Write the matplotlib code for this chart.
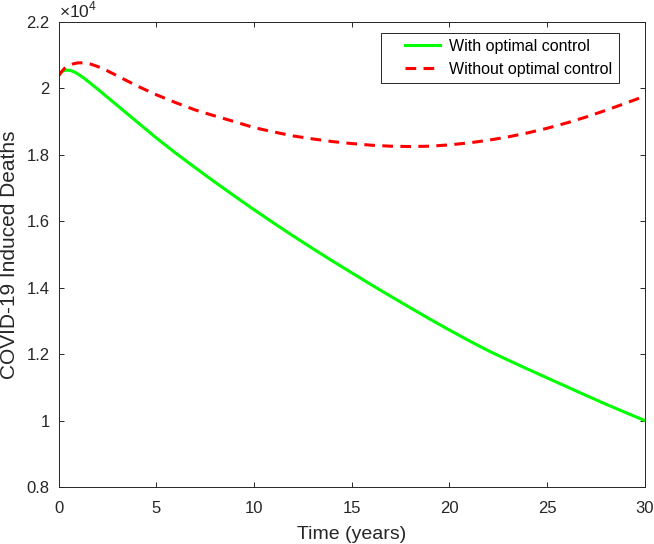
import matplotlib
matplotlib.use("Agg")
import matplotlib.pyplot as plt
from matplotlib.ticker import FuncFormatter
from matplotlib.legend_handler import HandlerLine2D

plt.rcParams['font.family'] = ['Liberation Sans', 'DejaVu Sans']
plt.rcParams['mathtext.fontset'] = 'custom'
plt.rcParams['mathtext.rm'] = 'Liberation Sans'

# time in years
t_with = [0, 0.1, 0.2, 0.3, 0.45, 0.6, 0.8, 1.0, 1.3, 1.6, 2, 3, 4, 5, 6, 7,
          8, 9, 10, 11, 12, 13, 14, 15, 16, 17, 18, 19, 20, 21, 22, 23, 24,
          25, 26, 27, 28, 29, 30]
deaths_with = [20380, 20460, 20510, 20540, 20550, 20540, 20500, 20430, 20310,
               20170, 19980, 19490, 19000, 18510, 18050, 17610, 17180, 16760,
               16350, 15950, 15560, 15180, 14810, 14450, 14090, 13740, 13395,
               13055, 12725, 12405, 12100, 11820, 11550, 11285, 11020, 10755,
               10495, 10245, 10000]

t_without = [0, 0.15, 0.3, 0.5, 0.75, 1.0, 1.3, 1.6, 2, 2.5, 3, 4, 5, 6, 7, 8,
             9, 10, 11, 12, 13, 14, 15, 16, 17, 18, 19, 20, 21, 22, 23, 24,
             25, 26, 27, 28, 29, 30]
deaths_without = [20380, 20500, 20600, 20680, 20740, 20770, 20770, 20740,
                  20660, 20530, 20380, 20080, 19810, 19570, 19350, 19170,
                  19000, 18820, 18690, 18570, 18480, 18400, 18340, 18290,
                  18260, 18250, 18260, 18300, 18360, 18440, 18540, 18660,
                  18800, 18960, 19140, 19340, 19550, 19770]

x_ticks = [0, 5, 10, 15, 20, 25, 30]
y_ticks = [8000, 10000, 12000, 14000, 16000, 18000, 20000, 22000]


class ShiftedLine(HandlerLine2D):
    # leave some empty room before the line sample, like MATLAB legends
    def create_artists(self, legend, orig_handle, xdescent, ydescent,
                       width, height, fontsize, trans):
        shift = width * 0.34
        return super().create_artists(legend, orig_handle, xdescent - shift,
                                      ydescent, width - shift, height,
                                      fontsize, trans)


fig = plt.figure(figsize=(6.54, 5.44), dpi=100)
ax = fig.add_axes([0.0895, 0.1048, 0.8965, 0.8548])

ax.plot(t_with, deaths_with, color=(0, 1, 0), linewidth=2.2,
        label='With optimal control')
ax.plot(t_without, deaths_without, color=(1, 0, 0), linewidth=2.2,
        linestyle=(0, (3.5, 2.4)), label='Without optimal control')

ax.set_xlim(0, 30)
ax.set_ylim(8000, 22000)
ax.set_xticks(x_ticks)
ax.set_yticks(y_ticks)
ax.yaxis.set_major_formatter(FuncFormatter(lambda v, p: '%g' % (v / 1e4)))

dark = '#262626'
for s in ax.spines.values():
    s.set_color(dark)
    s.set_linewidth(0.7)
ax.tick_params(direction='in', top=True, right=True, length=3.6, width=0.7,
               color=dark, labelcolor=dark, labelsize=12)
ax.tick_params(axis='x', pad=10)
ax.tick_params(axis='y', pad=6.4)

ax.text(0, 1.004, '×10$^{4}$', transform=ax.transAxes,
        ha='left', va='bottom', fontsize=12.5, color=dark)

ax.set_xlabel('Time (years)', fontsize=14, color=dark, labelpad=7)
ax.set_ylabel('COVID-19 Induced Deaths', fontsize=15, color=dark, labelpad=5)

leg = ax.legend(loc='upper right', bbox_to_anchor=(0.9557, 0.977),
                borderaxespad=0, fontsize=11.5, frameon=True, fancybox=False,
                handlelength=3.32, borderpad=0.4, labelspacing=0.48,
                handletextpad=0.56,
                handler_map={plt.Line2D: ShiftedLine()})
leg.get_frame().set_edgecolor(dark)
leg.get_frame().set_linewidth(0.7)
leg.get_frame().set_alpha(1)

fig.savefig('out.png', dpi=100)
